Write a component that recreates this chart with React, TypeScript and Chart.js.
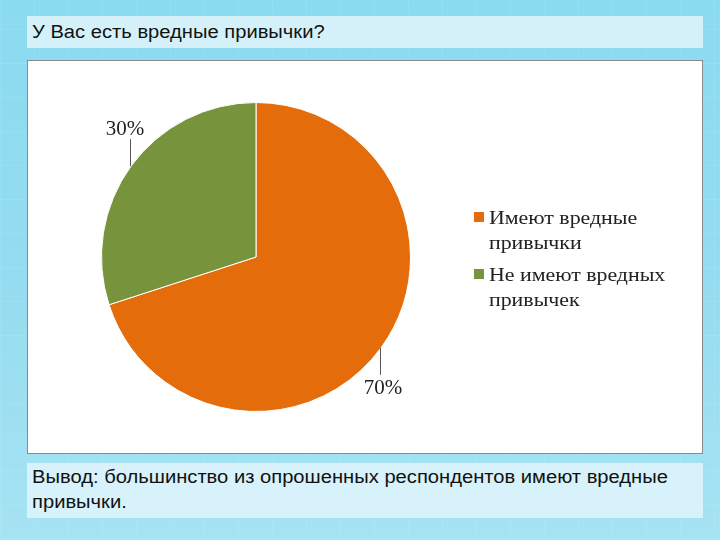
import React, { useEffect, useRef } from "react";
import { Chart, registerables } from "chart.js";

Chart.register(...registerables);

const categories = ["Имеют вредные привычки", "Не имеют вредных привычек"];
const legendLines = [["Имеют вредные", "привычки"], ["Не имеют вредных", "привычек"]];
const values = [70, 30];
const valueLabels = ["70%", "30%"];
const colors = ["#E46C0A", "#77933C"];
const titleText = "У Вас есть вредные привычки?";
const conclusionLines = ["Вывод: большинство из опрошенных респондентов имеют вредные", "привычки."];

const overlayPlugin = {
  id: "overlay",
  afterDraw(chart: any) {
    const ctx = chart.ctx as CanvasRenderingContext2D;
    const meta = chart.getDatasetMeta(0);
    ctx.save();
    // data labels with leader lines
    meta.data.forEach((arc: any, i: number) => {
      const p = arc.getProps(["x", "y", "startAngle", "endAngle", "outerRadius"], true);
      const mid = (p.startAngle + p.endAngle) / 2;
      const ex = p.x + Math.cos(mid) * p.outerRadius;
      const ey = p.y + Math.sin(mid) * p.outerRadius;
      const up = ey < p.y;
      const dir = up ? -1 : 1;
      const ly = ey + dir * 27;
      ctx.strokeStyle = "#555";
      ctx.lineWidth = 1;
      ctx.beginPath();
      ctx.moveTo(Math.round(ex) - 0.5, ey);
      ctx.lineTo(Math.round(ex) - 0.5, ly);
      ctx.stroke();
      ctx.fillStyle = "#222";
      ctx.font = "21px 'Liberation Serif', 'Times New Roman', serif";
      ctx.textAlign = "center";
      ctx.textBaseline = "middle";
      ctx.fillText(valueLabels[i], up ? ex - 6 : ex + 2, up ? ly - 10 : ly + 14);
    });
    // legend
    const lx = 446;
    const tops = [151, 208];
    ctx.font = "19px 'Liberation Serif', 'Times New Roman', serif";
    ctx.textAlign = "left";
    ctx.textBaseline = "alphabetic";
    legendLines.forEach((lines, i) => {
      ctx.fillStyle = colors[i];
      ctx.fillRect(lx, tops[i], 10, 10);
      ctx.fillStyle = "#222";
      lines.forEach((t, j) => {
        ctx.save();
        ctx.translate(lx + 15, tops[i] + 12 + j * 25);
        ctx.scale(1.15, 1);
        ctx.fillText(t, 0, 0);
        ctx.restore();
      });
    });
    ctx.restore();
  },
};

export default function App() {
  const ref = useRef<HTMLCanvasElement>(null);
  useEffect(() => {
    const chart = new Chart(ref.current!, {
      type: "pie",
      data: {
        labels: categories,
        datasets: [
          {
            data: values,
            backgroundColor: colors,
            borderColor: "#ffffff",
            borderWidth: 1,
          },
        ],
      },
      options: {
        animation: false,
        responsive: false,
        layout: { padding: { left: 73, top: 41, bottom: 41, right: 674 - 383 } },
        plugins: {
          legend: { display: false },
          tooltip: { enabled: false },
        },
      },
      plugins: [overlayPlugin],
    });
    return () => chart.destroy();
  }, []);

  const boxText: React.CSSProperties = {
    fontFamily: "'Liberation Sans', Arial, sans-serif",
    fontSize: 18,
    color: "#111",
  };
  const stretch: React.CSSProperties = {
    display: "inline-block",
    transform: "scaleX(1.12)",
    transformOrigin: "left center",
    whiteSpace: "nowrap",
  };

  return (
    <div
      style={{
        position: "fixed",
        left: 0,
        top: 0,
        width: 720,
        height: 540,
        overflow: "hidden",
        background:
          "repeating-linear-gradient(90deg, rgba(255,255,255,0.08) 0px, rgba(255,255,255,0.08) 1px, transparent 1px, transparent 34px), repeating-linear-gradient(0deg, rgba(255,255,255,0.08) 0px, rgba(255,255,255,0.08) 1px, transparent 1px, transparent 34px), linear-gradient(180deg, #8BDBF0 0%, #94DCF0 50%, #A6E3F3 100%)",
      }}
    >
      <div
        style={{
          position: "absolute",
          left: 27,
          top: 16,
          width: 676,
          height: 32,
          background: "rgba(225,245,252,0.85)",
          ...boxText,
          lineHeight: "32px",
          paddingLeft: 5,
          boxSizing: "border-box",
        }}
      >
        <span style={stretch}>{titleText}</span>
      </div>
      <div
        style={{
          position: "absolute",
          left: 27,
          top: 60,
          width: 676,
          height: 394,
          background: "#fff",
          border: "1px solid #8a8a8a",
          boxSizing: "border-box",
        }}
      >
        <canvas ref={ref} width={674} height={392} style={{ display: "block" }} />
      </div>
      <div
        style={{
          position: "absolute",
          left: 27,
          top: 463,
          width: 676,
          height: 55,
          background: "rgba(225,245,252,0.85)",
          ...boxText,
          lineHeight: "25px",
          paddingLeft: 5,
          paddingTop: 2,
          boxSizing: "border-box",
        }}
      >
        {conclusionLines.map((l, i) => (
          <div key={i} style={{ height: 25 }}>
            <span style={stretch}>{l}</span>
          </div>
        ))}
      </div>
    </div>
  );
}
